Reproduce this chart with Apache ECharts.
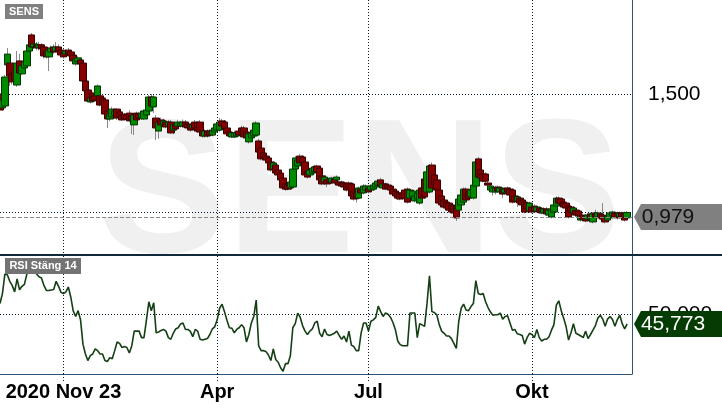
<!DOCTYPE html>
<html><head><meta charset="utf-8">
<script src="https://cdn.jsdelivr.net/npm/echarts@6/dist/echarts.min.js"></script>
<style>html,body{margin:0;padding:0;background:#fff}#c{width:722px;height:410px}</style>
</head><body><div id="c"></div>
<script>
// ---- data ----
const open = [
1.500,1.441,1.449,1.623,1.631,1.585,1.593,1.538,1.640,1.585,
1.610,1.619,1.682,1.750,1.699,1.708,1.695,1.708,1.699,1.678,
1.657,1.678,1.699,1.682,1.699,1.686,1.674,1.669,1.686,1.678,
1.665,1.627,1.636,1.644,1.631,1.555,1.517,1.466,1.504,1.492,
1.492,1.492,1.483,1.475,1.428,1.394,1.403,1.411,1.436,1.424,
1.411,1.415,1.411,1.419,1.407,1.369,1.419,1.415,1.398,1.394,
1.411,1.428,1.487,1.445,1.398,1.343,1.390,1.369,1.381,1.364,
1.381,1.347,1.369,1.364,1.364,1.364,1.381,1.373,1.369,1.356,
1.381,1.377,1.381,1.343,1.322,1.343,1.343,1.326,1.339,1.347,
1.347,1.386,1.381,1.356,1.339,1.318,1.318,1.322,1.343,1.356,
1.356,1.339,1.297,1.314,1.322,1.326,1.301,1.271,1.250,1.237,
1.229,1.212,1.182,1.199,1.178,1.165,1.144,1.119,1.114,1.102,
1.106,1.182,1.195,1.237,1.233,1.212,1.170,1.157,1.165,1.170,
1.195,1.186,1.153,1.127,1.136,1.140,1.127,1.140,1.136,1.127,
1.127,1.123,1.119,1.123,1.119,1.085,1.081,1.059,1.097,1.081,
1.093,1.102,1.093,1.097,1.106,1.114,1.136,1.102,1.119,1.114,
1.110,1.097,1.089,1.081,1.076,1.081,1.093,1.097,1.059,1.064,
1.047,1.055,1.038,1.102,1.140,1.085,1.085,1.199,1.157,1.136,
1.093,1.068,1.051,1.042,1.038,1.030,1.025,1.017,1.008,1.030,
1.042,1.097,1.085,1.064,1.059,1.110,1.225,1.178,1.161,1.161,
1.123,1.093,1.085,1.085,1.106,1.085,1.097,1.081,1.102,1.097,
1.093,1.068,1.047,1.059,1.051,1.042,1.038,1.004,1.021,1.025,
1.004,1.017,1.013,0.996,1.013,0.987,0.979,1.000,1.025,1.059,
1.055,1.042,1.038,1.025,1.021,0.996,1.008,1.004,0.966,0.987,
0.983,0.970,0.992,0.958,0.996,0.979,0.992,0.987,0.979,0.966,
0.975,0.983,0.996,0.996,0.979,0.996,0.996,0.975
];
const close = [
1.432,1.475,1.572,1.669,1.576,1.551,1.559,1.631,1.589,1.619,
1.636,1.682,1.708,1.699,1.712,1.695,1.708,1.691,1.661,1.657,
1.686,1.695,1.678,1.699,1.678,1.665,1.657,1.682,1.669,1.661,
1.640,1.648,1.653,1.627,1.555,1.513,1.470,1.483,1.470,1.475,
1.534,1.453,1.458,1.415,1.394,1.415,1.436,1.428,1.398,1.403,
1.390,1.394,1.394,1.386,1.390,1.411,1.390,1.398,1.419,1.428,
1.432,1.487,1.449,1.487,1.356,1.381,1.369,1.386,1.360,1.381,
1.335,1.369,1.352,1.381,1.377,1.381,1.360,1.356,1.347,1.369,
1.356,1.343,1.339,1.322,1.343,1.322,1.326,1.347,1.356,1.373,
1.381,1.364,1.352,1.331,1.322,1.335,1.335,1.335,1.326,1.335,
1.318,1.314,1.331,1.335,1.347,1.377,1.254,1.225,1.229,1.220,
1.208,1.178,1.208,1.165,1.157,1.136,1.102,1.097,1.097,1.127,
1.182,1.229,1.220,1.208,1.208,1.157,1.148,1.178,1.186,1.191,
1.170,1.136,1.119,1.148,1.119,1.123,1.144,1.123,1.148,1.114,
1.110,1.106,1.093,1.102,1.068,1.055,1.059,1.102,1.081,1.110,
1.110,1.085,1.110,1.114,1.123,1.131,1.110,1.119,1.097,1.102,
1.093,1.076,1.068,1.059,1.055,1.059,1.059,1.042,1.093,1.089,
1.068,1.081,1.093,1.059,1.064,1.170,1.195,1.102,1.114,1.093,
1.038,1.030,1.021,1.017,1.008,1.000,0.996,0.975,1.055,1.072,
1.097,1.051,1.059,1.093,1.114,1.212,1.148,1.144,1.131,1.131,
1.114,1.110,1.102,1.102,1.089,1.102,1.076,1.097,1.085,1.072,
1.042,1.047,1.064,1.038,1.030,1.000,1.013,1.038,1.000,1.004,
1.021,1.000,0.996,1.013,0.992,1.008,1.013,1.030,1.059,1.038,
1.034,1.021,1.017,0.979,1.000,1.017,0.987,0.983,0.983,0.970,
0.962,0.987,0.975,0.992,0.979,0.996,0.975,0.970,0.958,0.983,
0.996,1.000,0.979,0.975,0.996,0.979,0.966,0.998
];
const high = [
1.510,1.490,1.580,1.695,1.640,1.600,1.600,1.682,1.670,1.630,
1.645,1.690,1.720,1.758,1.725,1.720,1.720,1.715,1.710,1.685,
1.695,1.705,1.710,1.720,1.710,1.695,1.680,1.690,1.695,1.685,
1.670,1.655,1.660,1.650,1.640,1.560,1.525,1.490,1.510,1.500,
1.540,1.500,1.490,1.480,1.435,1.420,1.445,1.435,1.440,1.430,
1.415,1.420,1.420,1.430,1.415,1.420,1.425,1.420,1.430,1.435,
1.440,1.495,1.500,1.495,1.410,1.390,1.400,1.395,1.390,1.390,
1.390,1.375,1.375,1.390,1.385,1.392,1.390,1.380,1.375,1.375,
1.390,1.385,1.390,1.350,1.350,1.350,1.350,1.355,1.365,1.380,
1.398,1.395,1.390,1.362,1.345,1.342,1.345,1.343,1.350,1.365,
1.365,1.345,1.337,1.342,1.355,1.385,1.310,1.280,1.258,1.245,
1.235,1.220,1.215,1.205,1.185,1.172,1.150,1.125,1.120,1.135,
1.190,1.237,1.228,1.245,1.240,1.220,1.178,1.185,1.195,1.198,
1.200,1.195,1.160,1.155,1.142,1.146,1.150,1.147,1.155,1.133,
1.133,1.130,1.125,1.130,1.125,1.090,1.087,1.108,1.104,1.118,
1.117,1.108,1.117,1.120,1.130,1.140,1.145,1.125,1.125,1.120,
1.117,1.104,1.095,1.087,1.083,1.087,1.100,1.104,1.100,1.095,
1.074,1.088,1.100,1.108,1.147,1.178,1.203,1.210,1.165,1.142,
1.100,1.074,1.057,1.048,1.044,1.036,1.032,1.023,1.062,1.078,
1.104,1.104,1.091,1.100,1.120,1.220,1.233,1.185,1.168,1.168,
1.130,1.117,1.108,1.110,1.113,1.108,1.104,1.104,1.108,1.104,
1.100,1.074,1.070,1.066,1.057,1.048,1.044,1.044,1.030,1.032,
1.027,1.024,1.020,1.020,1.020,1.015,1.020,1.036,1.066,1.066,
1.060,1.048,1.044,1.032,1.028,1.024,1.015,1.010,0.990,0.994,
0.990,0.994,0.998,0.998,1.010,1.002,0.998,1.038,0.985,0.990,
1.002,1.006,1.002,1.002,1.002,1.002,1.002,1.004
];
const low = [
1.420,1.430,1.440,1.615,1.534,1.540,1.550,1.530,1.580,1.580,
1.600,1.610,1.675,1.690,1.690,1.685,1.685,1.680,1.650,1.650,
1.597,1.670,1.670,1.675,1.670,1.655,1.650,1.660,1.660,1.655,
1.635,1.620,1.630,1.620,1.550,1.505,1.465,1.460,1.465,1.468,
1.485,1.447,1.450,1.410,1.356,1.385,1.395,1.405,1.390,1.395,
1.385,1.390,1.385,1.380,1.330,1.326,1.385,1.390,1.390,1.390,
1.405,1.420,1.440,1.420,1.305,1.310,1.360,1.360,1.355,1.355,
1.330,1.330,1.345,1.358,1.358,1.358,1.355,1.350,1.340,1.350,
1.340,1.335,1.330,1.315,1.315,1.315,1.320,1.320,1.333,1.340,
1.340,1.360,1.345,1.325,1.316,1.313,1.313,1.316,1.320,1.330,
1.310,1.307,1.290,1.307,1.315,1.320,1.248,1.218,1.222,1.215,
1.200,1.170,1.175,1.158,1.150,1.130,1.095,1.090,1.092,1.096,
1.100,1.175,1.190,1.200,1.200,1.150,1.142,1.150,1.158,1.163,
1.163,1.130,1.113,1.120,1.105,1.117,1.120,1.117,1.130,1.108,
1.104,1.100,1.087,1.096,1.062,1.048,1.040,1.053,1.075,1.075,
1.087,1.079,1.087,1.091,1.100,1.108,1.104,1.096,1.092,1.096,
1.087,1.070,1.062,1.053,1.050,1.053,1.053,1.036,1.053,1.058,
1.040,1.050,1.030,1.053,1.058,1.078,1.078,1.095,1.108,1.087,
1.032,1.024,1.015,1.011,1.002,0.994,0.990,0.962,1.002,1.024,
1.036,1.045,1.053,1.058,1.053,1.104,1.142,1.138,1.125,1.125,
1.100,1.087,1.070,1.075,1.083,1.079,1.060,1.075,1.079,1.066,
1.036,1.040,1.021,1.032,1.024,0.994,1.006,0.998,0.994,0.998,
0.998,0.994,0.990,0.990,0.985,0.980,0.973,0.994,1.019,1.032,
1.028,1.015,1.011,0.973,0.994,0.990,0.980,0.977,0.960,0.964,
0.956,0.964,0.968,0.952,0.973,0.973,0.968,0.964,0.952,0.960,
0.968,0.977,0.973,0.968,0.973,0.973,0.960,0.970
];
const rsi = [
54.3,58.4,66.5,66.2,63.5,61.8,59.1,64.5,60.0,61.4,
62.2,66.5,68.1,68.5,67.6,66.5,65.4,64.9,61.8,59.7,
59.7,59.9,60.1,63.5,61.4,58.9,58.4,59.1,61.1,57.0,
51.2,48.9,51.3,47.5,37.4,33.3,30.6,32.6,33.3,35.4,
34.7,33.3,33.3,30.6,30.2,31.8,31.3,34.7,38.3,37.7,
36.0,36.4,36.0,33.7,36.7,42.8,42.8,42.8,40.1,40.1,
47.3,55.0,51.3,54.6,42.1,42.4,43.1,43.5,42.8,40.1,
39.4,41.9,43.7,44.2,45.8,46.2,43.5,43.5,42.7,40.5,
43.5,42.8,39.4,39.1,39.4,39.7,41.4,43.7,44.6,47.5,
52.3,54.0,50.9,47.3,44.2,44.0,42.1,43.5,44.2,45.5,
44.2,38.3,41.4,46.2,48.9,55.7,36.7,34.7,34.7,34.3,
32.9,30.6,35.4,31.0,29.9,27.6,26.1,29.3,29.3,32.6,
44.2,45.9,50.3,48.6,45.1,42.8,41.4,42.8,43.7,46.2,
46.9,41.9,40.5,43.7,41.4,41.0,41.4,41.9,42.8,41.0,
39.4,40.8,38.3,42.8,37.0,36.4,34.7,34.7,42.1,46.2,
46.2,42.8,46.9,47.5,48.5,53.2,50.9,48.9,50.3,49.8,
48.6,46.5,43.5,38.7,37.2,36.7,36.7,36.7,50.3,50.3,
50.3,40.1,45.9,45.4,44.8,54.3,65.8,50.9,50.5,49.6,
45.5,42.8,41.9,40.8,40.8,39.7,37.7,35.6,46.9,52.3,
54.0,51.6,51.3,53.0,54.3,63.8,58.4,58.0,58.4,55.0,
52.6,50.7,49.4,49.6,49.6,50.3,47.8,48.9,49.2,46.2,
43.2,43.5,41.7,41.4,41.0,37.4,40.1,41.9,41.4,40.1,
43.5,40.1,38.7,39.4,39.4,40.5,43.2,45.5,53.6,55.4,
51.3,48.2,44.6,39.1,42.1,45.9,41.9,41.4,40.8,40.1,
42.8,39.7,41.4,43.2,45.1,48.2,49.4,47.8,44.8,47.8,
48.9,47.6,44.8,47.6,49.4,45.9,43.7,45.773
];
const lastPrice = 0.979;
const tickIndex = [26, 89, 151, 218];
const tickLabels = ['2020 Nov 23', 'Apr', 'Jul', 'Okt'];
const priceTicks = [1.0, 1.5];
const rsiTicks = [50];
const padCount = 2;
// ------------------------------------

const categories = [];
for (let i = 0; i < open.length + padCount; i++) categories.push(String(i));
const lastCat = categories.length - 1;
const lastRsi = rsi[rsi.length - 1];

const wickData = open.map((o, i) => [o, close[i], low[i], high[i]]);
const bodyData = open.map((o, i) => [o, close[i], Math.min(o, close[i]), Math.max(o, close[i])]);

const fmt = v => v.toFixed(3).replace('.', ',');
const isTick = i => tickIndex.indexOf(i) >= 0;
const FONT = 'Liberation Sans, Arial, sans-serif';
const NAVY = '#071c30';
const AXIS = '#2d5478';
const dotted = { type: [1, 2], color: NAVY, width: 1 };

const chart = echarts.init(document.getElementById('c'), null, { renderer: 'canvas' });
chart.setOption({
  animation: false,
  backgroundColor: '#ffffff',
  grid: [
    { left: 0, right: 90, top: 0, height: 255 },
    { left: 0, right: 90, top: 256, height: 118 }
  ],
  xAxis: [
    { type: 'category', gridIndex: 0, data: categories, boundaryGap: false,
      axisLine: { show: false }, axisTick: { show: false }, axisLabel: { show: false },
      splitLine: { show: true, interval: isTick, lineStyle: dotted } },
    { type: 'category', gridIndex: 1, data: categories, boundaryGap: false,
      axisLine: { show: true, lineStyle: { color: AXIS, width: 1 } },
      axisTick: { show: true, interval: isTick, length: 7, lineStyle: dotted },
      axisLabel: { show: true, interval: isTick, margin: 8, fontSize: 20, fontWeight: 'bold',
        fontFamily: FONT, color: '#000',
        formatter: v => { const k = tickIndex.indexOf(Number(v)); return k >= 0 ? tickLabels[k] : ''; } },
      splitLine: { show: true, interval: isTick, lineStyle: dotted } }
  ],
  yAxis: [
    { type: 'value', gridIndex: 0, position: 'right', min: 0.818, max: 1.898,
      axisLine: { show: true, lineStyle: { color: AXIS, width: 1 } },
      axisTick: { show: false, customValues: priceTicks },
      axisLabel: { customValues: priceTicks, formatter: fmt, margin: 16, fontSize: 21,
        fontFamily: FONT, color: '#000' },
      splitLine: { show: true, lineStyle: dotted } },
    { type: 'value', gridIndex: 1, position: 'right', min: 25, max: 74,
      axisLine: { show: true, lineStyle: { color: AXIS, width: 1 } },
      axisTick: { show: false, customValues: rsiTicks },
      axisLabel: { customValues: rsiTicks, formatter: fmt, margin: 16, fontSize: 21,
        fontFamily: FONT, color: '#000' },
      splitLine: { show: true, lineStyle: dotted } }
  ],
  graphic: [
    { type: 'text', z: -10, silent: true, x: 360, y: 199,
      style: { text: 'SENS', font: 'bold 192px ' + FONT, fill: '#f0f0f0', align: 'center', verticalAlign: 'middle' } },
    { type: 'rect', z: 50, silent: true, shape: { x: 0, y: 254, width: 722, height: 2 }, style: { fill: '#0f2b3b' } },
    { type: 'rect', z: 50, silent: true, shape: { x: 5, y: 4, width: 38, height: 15 }, style: { fill: '#808080' } },
    { type: 'text', z: 51, silent: true, x: 24, y: 12,
      style: { text: 'SENS', font: 'bold 11px ' + FONT, fill: '#fff', align: 'center', verticalAlign: 'middle' } },
    { type: 'rect', z: 50, silent: true, shape: { x: 5, y: 258, width: 76, height: 16 }, style: { fill: '#737373' } },
    { type: 'text', z: 51, silent: true, x: 43, y: 266,
      style: { text: 'RSI Stäng 14', font: 'bold 11px ' + FONT, fill: '#fff', align: 'center', verticalAlign: 'middle' } }
  ],
  series: [
    { type: 'candlestick', xAxisIndex: 0, yAxisIndex: 0, data: wickData, barWidth: 1,
      itemStyle: { color: '#8a8a8a', color0: '#8a8a8a', borderColor: '#8a8a8a', borderColor0: '#8a8a8a', borderWidth: 1 } },
    { type: 'candlestick', xAxisIndex: 0, yAxisIndex: 0, data: bodyData, barWidth: 7,
      itemStyle: { color: '#008a00', color0: '#840000', borderColor: '#003500', borderColor0: '#3a0000', borderWidth: 1 },
      markLine: { silent: true, symbol: ['none', 'none'], label: { show: false },
        lineStyle: { type: [4, 2], color: '#888', width: 1 },
        data: [{ yAxis: lastPrice }] },
      markPoint: { silent: true,
        symbol: 'path://M0,13L7,0L88,0L88,26L7,26Z', symbolSize: [88, 26], symbolKeepAspect: false,
        symbolOffset: [46, 0], itemStyle: { color: '#808080' },
        label: { show: true, position: 'inside', offset: [-10, 0], formatter: () => fmt(lastPrice),
          fontSize: 21, fontFamily: FONT, color: '#111' },
        data: [{ coord: [lastCat, lastPrice] }] } },
    { type: 'line', xAxisIndex: 1, yAxisIndex: 1, data: rsi, symbol: 'none', smooth: false,
      lineStyle: { color: '#143f14', width: 1.6 },
      markPoint: { silent: true,
        symbol: 'path://M0,13L7,0L88,0L88,26L7,26Z', symbolSize: [88, 26], symbolKeepAspect: false,
        symbolOffset: [46, 0], itemStyle: { color: '#043c04' },
        label: { show: true, position: 'inside', offset: [-5, 0], formatter: () => fmt(lastRsi),
          fontSize: 21, fontFamily: FONT, color: '#fff' },
        data: [{ coord: [lastCat, lastRsi] }] } }
  ]
});
</script>
</body></html>
